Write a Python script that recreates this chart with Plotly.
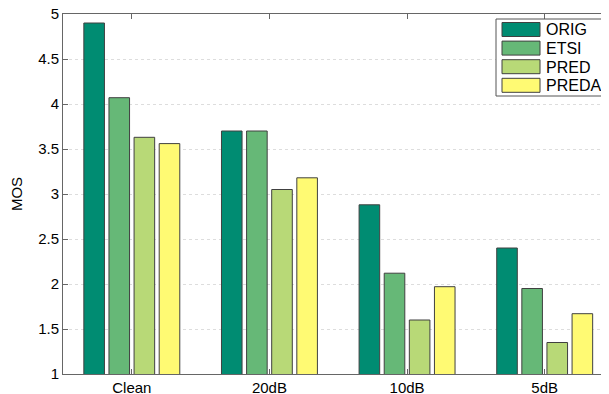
import plotly.graph_objects as go

categories = ["Clean", "20dB", "10dB", "5dB"]
series_names = ["ORIG", "ETSI", "PRED", "PREDA"]
orig = [4.90, 3.70, 2.88, 2.40]
etsi = [4.07, 3.70, 2.12, 1.95]
pred = [3.63, 3.05, 1.60, 1.35]
preda = [3.56, 3.18, 1.97, 1.67]
series_values = [orig, etsi, pred, preda]
colors = ["#008C72", "#66B877", "#B8D977", "#FFFA73"]
y_ticks = [1, 1.5, 2, 2.5, 3, 3.5, 4, 4.5, 5]

# page has an 8px body margin; figure is laid out in its own pixel frame
OFF = 8
W, H = 609 - OFF, 394 - OFF
L, R, T, B = 63 - OFF, 1, 14 - OFF, 20
pw, ph = W - L - R, H - T - B

x_pos = list(range(1, len(categories) + 1))

fig = go.Figure()
for name, vals, col in zip(series_names, series_values, colors):
    fig.add_trace(go.Bar(x=x_pos, y=vals, name=name,
                         marker=dict(color=col, line=dict(color="#404040", width=1)),
                         showlegend=False))

def px_x(p):
    # p is a page pixel coordinate
    return (p - OFF - L) / pw

def px_y(p):
    return (H - B - (p - OFF)) / ph

# custom legend (box, swatches, labels)
shapes = [dict(type="rect", xref="paper", yref="paper",
               x0=px_x(496), x1=px_x(607), y0=px_y(96), y1=px_y(19),
               line=dict(color="#555555", width=1), fillcolor="white", layer="above")]
annotations = []
for i, (name, col) in enumerate(zip(series_names, colors)):
    top = 22.5 + i * 18.6
    shapes.append(dict(type="rect", xref="paper", yref="paper",
                       x0=px_x(502), x1=px_x(540), y0=px_y(top + 14), y1=px_y(top),
                       line=dict(color="#404040", width=1), fillcolor=col, layer="above"))
    annotations.append(dict(xref="paper", yref="paper", x=px_x(544), y=px_y(top + 7.5),
                            text=name, showarrow=False, xanchor="left", yanchor="middle",
                            font=dict(size=16, color="black", family="Liberation Sans, Arial")))

fig.update_layout(
    width=W, height=H,
    margin=dict(l=L, r=R, t=T, b=B, autoexpand=False),
    paper_bgcolor="white", plot_bgcolor="white",
    barmode="group", bargap=0.27, bargroupgap=0.18,
    font=dict(family="Liberation Sans, Arial", size=15, color="black"),
    shapes=shapes, annotations=annotations,
    xaxis=dict(range=[0.5, 4.46], tickmode="array", tickvals=x_pos, ticktext=categories,
               showline=True, linecolor="#666666", linewidth=1, mirror="allticks",
               ticks="inside", ticklen=5, tickcolor="#666666", showgrid=False,
               zeroline=False, automargin=False, tickfont=dict(size=15),
               ticklabeloverflow="allow"),
    yaxis=dict(range=[1, 5], tickmode="array", tickvals=y_ticks,
               ticktext=[f"{v:g}" for v in y_ticks],
               showline=True, linecolor="#666666", linewidth=1, mirror="allticks",
               ticks="inside", ticklen=5, tickcolor="#666666",
               showgrid=True, gridcolor="#DDDDDD", griddash="dot", gridwidth=1,
               zeroline=False, automargin=False, tickfont=dict(size=15),
               ticklabeloverflow="allow",
               title=dict(text="MOS", font=dict(size=15), standoff=12)),
)

fig.write_html("out.html")
